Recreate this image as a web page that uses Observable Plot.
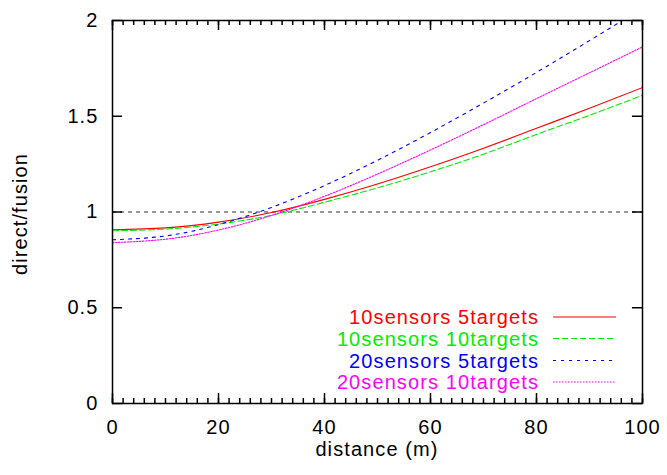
<!DOCTYPE html>
<html>
<head>
<meta charset="utf-8">
<script src="https://cdn.jsdelivr.net/npm/d3@7"></script>
<script src="https://cdn.jsdelivr.net/npm/@observablehq/plot@0.6"></script>
<style>
  html, body { margin: 0; padding: 0; background: white; }
  svg text { letter-spacing: 1.1px; }
</style>
</head>
<body>
<div id="chart"></div>
<script>
const distance = [0, 10, 20, 30, 40, 50, 60, 70, 80, 90, 100];
const s10t5  = [0.907, 0.917, 0.947, 0.997, 1.066, 1.146, 1.236, 1.333, 1.437, 1.542, 1.650];
const s10t10 = [0.902, 0.911, 0.937, 0.983, 1.051, 1.126, 1.210, 1.302, 1.405, 1.505, 1.610];
const s20t5  = [0.855, 0.875, 0.934, 1.024, 1.138, 1.270, 1.415, 1.569, 1.729, 1.895, 2.064];
const s20t10 = [0.840, 0.858, 0.906, 0.982, 1.082, 1.198, 1.324, 1.456, 1.592, 1.727, 1.862];

const seriesNames = ["10sensors 5targets", "10sensors 10targets", "20sensors 5targets", "20sensors 10targets"];
const seriesValues = [s10t5, s10t10, s20t5, s20t10];
const seriesColors = ["#ff0000", "#00ee00", "#0000ff", "#ff00ff"];
const seriesDash = [null, "6,3", "3,5", "1.5,1.5"];

const xMajor = [0, 20, 40, 60, 80, 100];
const xMinor = d3.range(0, 101, 2);
const yMajor = [0, 0.5, 1, 1.5, 2];

const font = "'Liberation Sans', Arial, Helvetica, sans-serif";

const W = 667, H = 475, mL = 112, mR = 25, mT = 20, mB = 72;

const lineMarks = seriesValues.map((vals, i) =>
  Plot.line(distance.map((d, j) => ({x: d, y: vals[j]})), {
    x: "x", y: "y", stroke: seriesColors[i], strokeWidth: 1.1,
    strokeDasharray: seriesDash[i], curve: "natural", clip: true
  })
);

const tickStroke = {stroke: "black", strokeWidth: 1.5};
const svg = Plot.plot({
  width: W, height: H,
  marginLeft: mL, marginRight: mR, marginTop: mT, marginBottom: mB,
  style: {fontFamily: font, fontSize: "20px", background: "white", color: "black"},
  x: {domain: [0, 100], label: null},
  y: {domain: [0, 2], label: null},
  marks: [
    Plot.ruleY([1], {stroke: "#333", strokeWidth: 1, strokeDasharray: "4,4"}),
    ...lineMarks,
    Plot.ruleX(xMinor, {x: d => d, y1: 0, y2: 0.026, ...tickStroke}),
    Plot.ruleX(xMajor, {x: d => d, y1: 0, y2: 0.052, ...tickStroke}),
    Plot.ruleX(xMinor, {x: d => d, y1: 2, y2: 2 - 0.026, ...tickStroke}),
    Plot.ruleX(xMajor, {x: d => d, y1: 2, y2: 2 - 0.052, ...tickStroke}),
    Plot.ruleY(yMajor, {y: d => d, x1: 0, x2: 1.9, ...tickStroke}),
    Plot.ruleY(yMajor, {y: d => d, x1: 100, x2: 100 - 1.9, ...tickStroke}),
    Plot.frame({stroke: "black", strokeWidth: 1.5}),
    Plot.axisX(xMajor, {tickSize: 0, tickPadding: 16, fontSize: 20, tickFormat: d => `${d}`, label: null}),
    Plot.axisY(yMajor, {tickSize: 0, tickPadding: 14, fontSize: 20, tickFormat: d => `${d}`, label: null})
  ]
});

const g = d3.select(svg).append("g").attr("font-family", font).attr("font-size", 20);

// axis titles
g.append("text")
  .attr("x", mL + (W - mL - mR) / 2).attr("y", 456)
  .attr("text-anchor", "middle").attr("fill", "black")
  .text("distance (m)");
g.append("text")
  .attr("transform", `translate(27,${214}) rotate(-90)`)
  .attr("text-anchor", "middle").attr("fill", "black")
  .text("direct/fusion");

// legend
const legTextX = 539, legLineX1 = 553, legLineX2 = 616;
const legRowY = [317, 338.5, 360.5, 382];
seriesNames.forEach((name, i) => {
  g.append("text")
    .attr("x", legTextX).attr("y", legRowY[i] + 7)
    .attr("text-anchor", "end").attr("fill", seriesColors[i])
    .text(name);
  g.append("line")
    .attr("x1", legLineX1).attr("x2", legLineX2)
    .attr("y1", legRowY[i]).attr("y2", legRowY[i])
    .attr("stroke", seriesColors[i]).attr("stroke-width", 1.1)
    .attr("stroke-dasharray", seriesDash[i]);
});

document.getElementById("chart").appendChild(svg);
</script>
</body>
</html>
